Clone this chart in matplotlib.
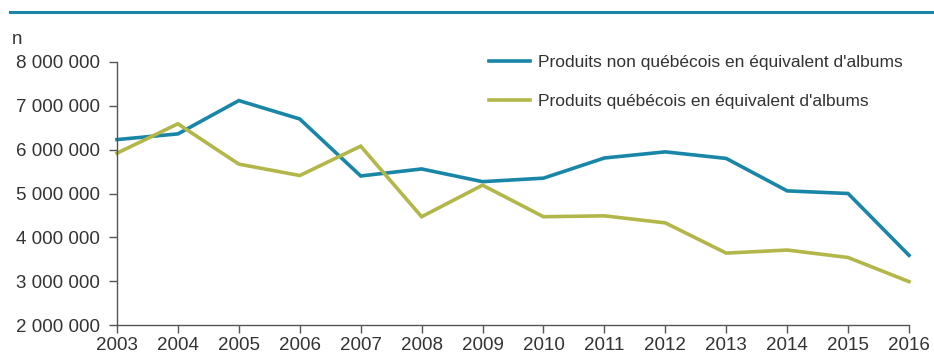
import matplotlib
matplotlib.use("Agg")
import matplotlib.pyplot as plt
from matplotlib.ticker import FixedLocator

plt.rcParams['font.family'] = ['Liberation Sans', 'DejaVu Sans']

years = [2003, 2004, 2005, 2006, 2007, 2008, 2009, 2010, 2011, 2012, 2013, 2014, 2015, 2016]
non_quebec = [6.23e6, 6.36e6, 7.12e6, 6.70e6, 5.40e6, 5.56e6, 5.27e6, 5.35e6, 5.81e6, 5.95e6, 5.80e6, 5.06e6, 5.00e6, 3.59e6]
quebec = [5.92e6, 6.59e6, 5.67e6, 5.41e6, 6.08e6, 4.47e6, 5.19e6, 4.47e6, 4.49e6, 4.33e6, 3.64e6, 3.71e6, 3.54e6, 2.99e6]
series_labels = ["Produits non québécois en équivalent d'albums",
                 "Produits québécois en équivalent d'albums"]
yticks = [2e6, 3e6, 4e6, 5e6, 6e6, 7e6, 8e6]
ytick_labels = ["2 000 000", "3 000 000", "4 000 000", "5 000 000",
                "6 000 000", "7 000 000", "8 000 000"]

blue = '#1a86a7'
olive = '#b3b74a'
txt = '#333333'
axc = '#555555'

fig = plt.figure(figsize=(9.34, 3.55), dpi=100)
ax = fig.add_axes([117/934, 1-325/355, (909-117)/934, (325-62)/355])

ax.plot(years, non_quebec, color=blue, lw=2.6, label=series_labels[0], solid_joinstyle='miter')
ax.plot(years, quebec, color=olive, lw=2.6, label=series_labels[1], solid_joinstyle='miter')

ax.set_xlim(2003, 2016)
ax.set_ylim(2e6, 8e6)
ax.yaxis.set_major_locator(FixedLocator(yticks))
ax.set_yticklabels(ytick_labels)
ax.set_xticks(years)
ax.set_xticklabels([str(y) for y in years])

for s in ['top', 'right']:
    ax.spines[s].set_visible(False)
for s in ['left', 'bottom']:
    ax.spines[s].set_color(axc)
    ax.spines[s].set_linewidth(1.0)
ax.tick_params(axis='both', colors=axc, labelcolor=txt, labelsize=13.5, length=6, width=1.0, direction='out')
ax.tick_params(axis='y', pad=6)
ax.tick_params(axis='x', pad=3)
for l in ax.lines:
    l.set_clip_on(False)

fig.text(12/934, 1-40/355, 'n', fontsize=13.5, color=txt, va='center', ha='left')

# top decorative rule
fig.add_artist(plt.Line2D([10/934, 1.0], [1-12/355, 1-12/355], color=blue, lw=2.2, transform=fig.transFigure))

leg = ax.legend(loc='upper left', bbox_to_anchor=(489/934, 1-55/355), bbox_transform=fig.transFigure,
                frameon=False, fontsize=12.5, handlelength=2.35, handletextpad=0.45, labelspacing=1.35,
                borderaxespad=0, borderpad=0)
for t in leg.get_texts():
    t.set_color(txt)

fig.savefig('out.png', dpi=100)
